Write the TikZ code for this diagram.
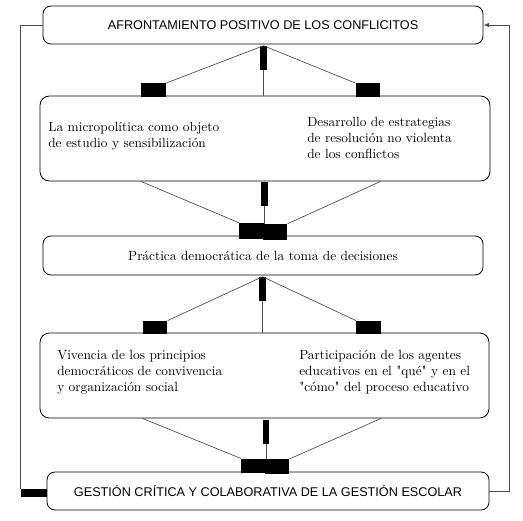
\documentclass[tikz,border=0pt]{standalone}
\usepackage{fontspec}
\setmainfont{Latin Modern Roman}[Ligatures=TeXOff]
\setsansfont{Liberation Sans}
\usetikzlibrary{calc, shapes}

\begin{document}
\begin{tikzpicture}[x=0.75pt, y=-0.75pt]
	\tikzstyle{stage}=[rectangle, draw, rounded corners=6pt, line width=0.6pt,
	font=\sffamily\fontsize{9.5}{11}\selectfont, minimum width=330pt, minimum height=28.5pt]
	\tikzstyle{widestage}=[rectangle, draw, rounded corners=7pt, line width=0.6pt,
	minimum width=337.5pt, minimum height=63.75pt]
	\tikzstyle{item}=[anchor=west, align=left, inner sep=0pt, font=\fontsize{10}{12}\selectfont]
	\tikzstyle{tipbox}=[rectangle, fill=black, inner sep=0pt, minimum width=18.5pt, minimum height=10pt]
	\tikzstyle{tipbar}=[rectangle, fill=black, inner sep=0pt, minimum width=5pt, minimum height=18pt]
	\tikzstyle{link}=[line width=0.5pt, black!70]
	
	\useasboundingbox (0,0) rectangle (523,520);
	
	\node[stage] at (263,25) (afront) {AFRONTAMIENTO POSITIVO DE LOS CONFLICITOS};
	\node[widestage] at (265,138.5) (nivel1) {};
	\node[item] at (48,136) (micro) {La micropolítica como objeto\\de estudio y sensibilización};
	\node[item] at (307,138) (estrat) {Desarrollo de estrategias\\de resolución no violenta\\de los conflictos};
	\node[stage, font=\fontsize{10}{12}\selectfont, minimum height=29.25pt] at (263,255.5) (practica) {Práctica democrática de la toma de decisiones};
	\node[widestage, minimum width=336.75pt] at (264.5,375.5) (nivel2) {};
	\node[item] at (57,372) (vivencia) {Vivencia de los principios\\democráticos de convivencia\\y organización social};
	\node[item] at (299,372) (particip) {Participación de los agentes\\educativos en el "qué" y en el\\"cómo" del proceso educativo};
	\node[stage, minimum width=331.5pt] at (268,491) (gestion) {GESTIÓN CRÍTICA Y COLABORATIVA DE LA GESTIÓN ESCOLAR};
	
	\node[tipbox] at (153.5,90) (tl1) {};
	\node[tipbar] at (263.5,58) (tc1) {};
	\node[tipbox] at (368,90) (tr1) {};
	\node[tipbar] at (264.5,194) (tc2) {};
	\node[tipbox, minimum height=12pt] at (251.5,231) (bl2) {};
	\node[tipbox, minimum height=12pt] at (275,232) (br2) {};
	\node[tipbar] at (262.5,289) (tc3) {};
	\node[tipbox] at (155,327.5) (tl3) {};
	\node[tipbox] at (368.5,327.5) (tr3) {};
	\node[tipbar] at (266,431.5) (tc4) {};
	\node[tipbox, minimum height=11pt] at (253.5,466) (bl4) {};
	\node[tipbox, minimum height=11pt] at (277,466.5) (br4) {};
	\node[tipbox, minimum width=19.5pt, minimum height=6pt] at (34,493) (fb) {};
	\coordinate (rcorner) at (509,491);
	
	\draw[link] (tc1.north) -- (tl1.north east);
	\draw[link] (tc1.north) -- (tr1.north west);
	\draw[link] (tc1.south) -- (tc1.south |- nivel1.north);
	
	\draw[link] (nivel1.south -| tl1.west) -- (bl2.north west);
	\draw[link] (nivel1.south -| tr1.east) -- (br2.north east);
	\draw[link] (tc2.south) -- (tc2.south |- br2.north);
	
	\draw[link] (tc3.north) -- (tl3.north east);
	\draw[link] (tc3.north) -- (tr3.north west);
	\draw[link] (tc3.south) -- (tc3.south |- nivel2.north);
	
	\draw[link] (nivel2.south -| tl3.west) -- (bl4.north west);
	\draw[link] (nivel2.south -| tr3.east) -- (br4.north east);
	\draw[link] (tc4.south) -- (tc4.south |- br4.north);
	
	\draw[link] (fb.north west) |- (afront.west);
	\draw[link, -latex] (gestion.east) -- (rcorner) |- (afront.east);
	
\end{tikzpicture}
\end{document}
